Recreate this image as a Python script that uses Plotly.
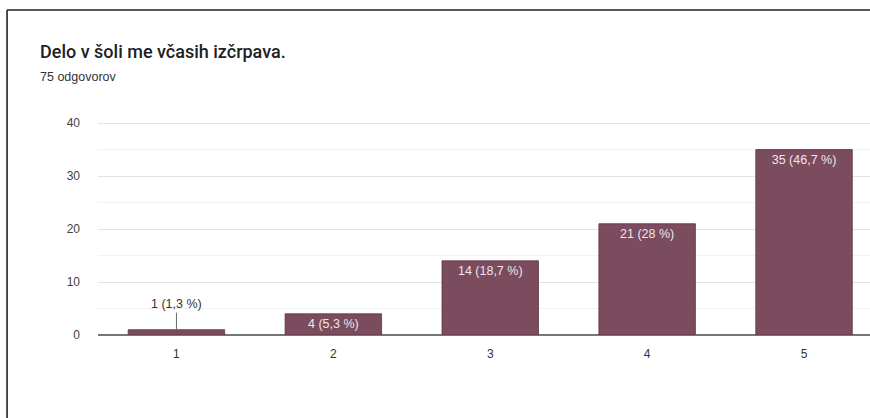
import plotly.graph_objects as go

title = "Delo v šoli me včasih izčrpava."
subtitle = "75 odgovorov"
categories = ["1", "2", "3", "4", "5"]
counts = [1, 4, 14, 21, 35]
percents = ["1,3 %", "5,3 %", "18,7 %", "28 %", "46,7 %"]
y_ticks = [0, 10, 20, 30, 40]

BAR = "#7b4b5e"
W, H = 870, 418
ML, MR, MT, MB = 97.5, 0, 122, 83
PW = W - ML - MR
PH = H - MT - MB
YMAX = 40.2

FONT = "Arial, 'Liberation Sans', sans-serif"
labels = [f"{c} ({p})" for c, p in zip(counts, percents)]
inside_text = [lab if c >= 3 else "" for lab, c in zip(labels, counts)]

x_idx = list(range(len(categories)))

fig = go.Figure()
fig.add_trace(go.Bar(
    x=x_idx, y=counts, width=0.615,
    marker=dict(color=BAR, line=dict(color="#5e3546", width=0.8)),
    text=inside_text, textposition="inside", insidetextanchor="end",
    textangle=0, constraintext="none",
    textfont=dict(family=FONT, size=12.5, color="#f1e6eb"),
    hoverinfo="skip",
))

# minor grid
for v in [5, 15, 25, 35]:
    fig.add_shape(type="line", xref="paper", yref="y", x0=0, x1=1, y0=v, y1=v,
                  line=dict(color="#f2f2f2", width=1), layer="below")

# outside label for small bar
for i, (c, lab) in enumerate(zip(counts, labels)):
    if c < 3:
        fig.add_annotation(x=i, y=c, xref="x", yref="y", text=lab,
                           showarrow=True, arrowhead=0, arrowwidth=1, arrowcolor="#666",
                           ax=0, ay=-17, yanchor="bottom",
                           font=dict(family=FONT, size=12.5, color="#333"))

# title and subtitle
fig.add_annotation(xref="paper", yref="paper", x=(37 - ML) / PW, y=(H - MB - 52) / PH,
                   text=title, showarrow=False, xanchor="left", yanchor="middle",
                   font=dict(family="Roboto, Arial, sans-serif", size=18, color="#202124", weight=500))
fig.add_annotation(xref="paper", yref="paper", x=(37 - ML) / PW, y=(H - MB - 77) / PH,
                   text=subtitle, showarrow=False, xanchor="left", yanchor="middle",
                   font=dict(family=FONT, size=12.5, color="#333"))

# frame (left and top border)
bx = (6.5 - ML) / PW
by = (H - MB - 10) / PH
fig.add_shape(type="line", xref="paper", yref="paper", x0=bx, x1=bx, y0=by, y1=-MB / PH - 0.05,
              line=dict(color="#222", width=1.6))
fig.add_shape(type="line", xref="paper", yref="paper", x0=bx, x1=1.05, y0=by, y1=by,
              line=dict(color="#222", width=1.6))

fig.update_layout(
    width=W, height=H,
    margin=dict(l=ML, r=MR, t=MT, b=MB, pad=0),
    paper_bgcolor="white", plot_bgcolor="white",
    showlegend=False, bargap=0.385,
    xaxis=dict(range=[-0.5, -0.5 + PW / 157.0], tickvals=x_idx, ticktext=categories,
               showgrid=False, zeroline=False, showline=False, ticks="",
               ticklabelstandoff=10,
               tickfont=dict(family=FONT, size=12, color="#333"),
               fixedrange=True),
    yaxis=dict(range=[0, YMAX], tickvals=y_ticks, showgrid=True, gridcolor="#e3e3e3", gridwidth=1,
               zeroline=True, zerolinecolor="#777", zerolinewidth=1.5,
               ticks="", ticklabelstandoff=17,
               tickfont=dict(family=FONT, size=12, color="#444"),
               fixedrange=True),
)

fig.write_html("out.html")
